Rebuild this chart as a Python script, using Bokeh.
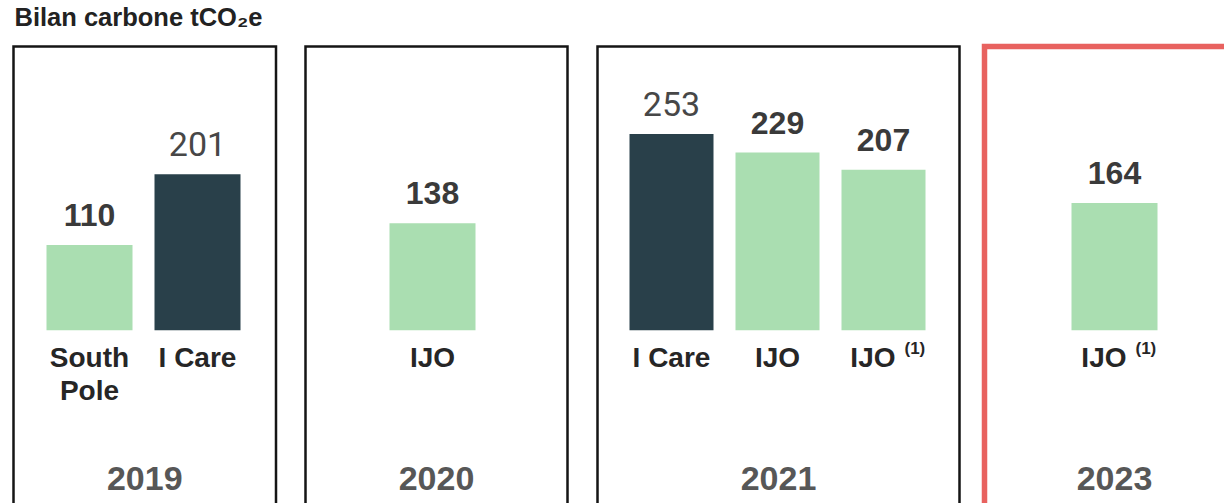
from bokeh.plotting import figure
from bokeh.models import Range1d
from bokeh.core.properties import value
from bokeh.embed import file_html
from bokeh.resources import INLINE

# ---------------- data ----------------
title_text = "Bilan carbone tCO₂e"
years = ["2019", "2020", "2021", "2023"]
bar_year = ["2019", "2019", "2020", "2021", "2021", "2021", "2023"]
bar_source = ["South\nPole", "I Care", "IJO", "I Care", "IJO", "IJO", "IJO"]
bar_note = ["", "", "", "", "", "(1)", "(1)"]
bar_value = [110, 201, 138, 253, 229, 207, 164]

# ---------------- layout (page pixels) ----------------
W, H = 1224, 503
MARGIN = 0
BASE = 329.7          # page y of the bars' baseline
K = 0.7755            # pixels per tCO2e
PANEL_TOP = 46
SHIFT = -10.5         # text baseline correction
panel_left = [13, 305, 597, 984]
panel_right = [275.5, 567, 959, 1244]
panel_highlight = [False, False, False, True]
bar_center = [89, 197, 432, 671, 777, 883, 1114]
bar_width = [86, 86, 86, 84, 84, 84, 86]

GREEN = "#AADEB1"
DARK = "#29404A"
RED = "#E8625F"
FONT = value("Liberation Sans")

y0 = -(MARGIN + H - BASE) / K
y1 = (BASE - MARGIN) / K

p = figure(width=W, height=H, x_range=Range1d(MARGIN, MARGIN + W), y_range=Range1d(y0, y1),
           output_backend="svg", toolbar_location=None, min_border=0,
           x_axis_type=None, y_axis_type=None)
p.grid.visible = False
p.outline_line_color = None
p.background_fill_color = "white"
p.border_fill_color = "white"

# panels
top_val = (BASE - PANEL_TOP) / K
for i, yr in enumerate(years):
    hl = panel_highlight[i]
    p.quad(left=[panel_left[i]], right=[panel_right[i]], top=[top_val], bottom=[y0 - 100],
           fill_color=None, line_color=RED if hl else "#151515",
           line_width=5.5 if hl else 2.5, line_join="miter")

# bars
colors = [DARK if s == "I Care" else GREEN for s in bar_source]
p.vbar(x=bar_center, width=bar_width, top=bar_value, bottom=0, fill_color=colors, line_color=None)

# value labels
for bold in (True, False):
    idx = [i for i, s in enumerate(bar_source) if (s != "I Care") == bold]
    p.text(x=[bar_center[i] for i in idx], y=[bar_value[i] for i in idx],
           text=[str(bar_value[i]) for i in idx],
           text_align="center", text_baseline="alphabetic", y_offset=-19.5 + SHIFT,
           text_font=FONT if bold else value("Roboto"),
           text_font_style="bold" if bold else "normal",
           text_font_size="32px" if bold else "34px",
           text_color="#3a3a3a" if bold else "#474747")

# category labels
for i, src in enumerate(bar_source):
    lines = src.split("\n")
    for j, ln in enumerate(lines):
        if bar_note[i]:
            xx, al = bar_center[i] + 12, "right"
        else:
            xx, al = bar_center[i], "center"
        p.text(x=[xx], y=[0], text=[ln], text_align=al, text_baseline="alphabetic",
               y_offset=37.5 + 33 * j + SHIFT, text_font=FONT, text_font_style="bold",
               text_font_size="28px", text_color="#262626")
    if bar_note[i]:
        p.text(x=[bar_center[i] + 21], y=[0], text=[bar_note[i]], text_align="left",
               text_baseline="alphabetic", y_offset=29 + SHIFT, text_font=FONT,
               text_font_style="bold", text_font_size="17px", text_color="#262626")

# year labels
year_x = [(l + r) / 2 for l, r in zip(panel_left, panel_right)]
p.text(x=year_x, y=[0] * len(years), text=years, text_align="center",
       text_baseline="alphabetic", y_offset=158.6 + SHIFT, text_font=FONT,
       text_font_style="bold", text_font_size="34px", text_color="#575757")

# title
p.text(x=[14], y=[0], text=[title_text], text_align="left", text_baseline="alphabetic",
       y_offset=27 - BASE + SHIFT, text_font=FONT, text_font_style="bold",
       text_font_size="25.5px", text_color="#222222")

open("out.html", "w").write(file_html(p, INLINE))
